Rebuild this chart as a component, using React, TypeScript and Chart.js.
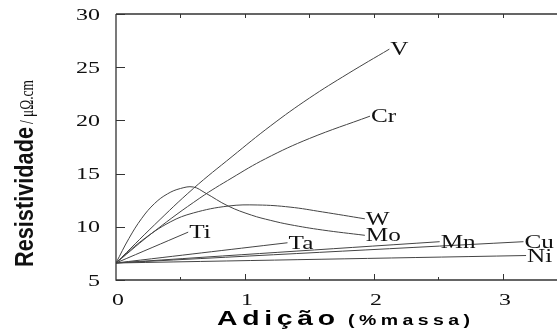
import { useEffect, useRef } from "react";
import { Chart, registerables } from "chart.js";
Chart.register(...registerables);

// ---- data ----
const seriesNames = ["V", "Cr", "W", "Mo", "Ti", "Ta", "Mn", "Cu", "Ni"];
const vX = [0, 0.3, 0.6, 0.9, 1.2, 1.5, 1.8, 2.12];
const vY = [6.6, 10.2, 13.6, 16.6, 19.5, 22.1, 24.4, 26.7];
const crX = [0, 0.3, 0.65, 0.9, 1.16, 1.5, 1.97];
const crY = [6.6, 9.6, 12.7, 14.6, 16.4, 18.3, 20.4];
const wX = [0, 0.2, 0.42, 0.6, 0.87, 1.1, 1.35, 1.6, 1.93];
const wY = [6.6, 8.7, 10.45, 11.3, 11.95, 12.05, 11.85, 11.4, 10.75];
const moX = [0, 0.1, 0.2, 0.3, 0.4, 0.5, 0.6, 0.69, 0.87, 1.05, 1.2, 1.35, 1.6, 1.93];
const moY = [6.6, 8.9, 10.8, 12.2, 13.1, 13.6, 13.74, 13.2, 11.95, 11.1, 10.6, 10.2, 9.7, 9.2];
const tiX = [0, 0.56];
const tiY = [6.6, 9.5];
const taX = [0, 1.33];
const taY = [6.6, 8.5];
const mnX = [0, 2.51];
const mnY = [6.6, 8.6];
const cuX = [0, 3.16];
const cuY = [6.6, 8.6];
const niX = [0, 3.18];
const niY = [6.6, 7.3];

const seriesX = [vX, crX, wX, moX, tiX, taX, mnX, cuX, niX];
const seriesY = [vY, crY, wY, moY, tiY, taY, mnY, cuY, niY];

const xTickLabels = [0, 1, 2, 3];
const xTickMarks = [0.5, 1, 1.5, 2, 2.5, 3];
const yTickLabels = [5, 10, 15, 20, 25, 30];

const yTitleMain = "Resistividade";
const yTitleUnit = "/ μΩ.cm";
const xTitleMain = "Adição";
const xTitleUnit = "(%massa)";

function stretchText(
  ctx: CanvasRenderingContext2D,
  text: string,
  x: number,
  y: number,
  sx: number,
  align: "left" | "right" | "center"
) {
  const w = ctx.measureText(text).width * sx;
  const x0 = align === "left" ? x : align === "right" ? x - w : x - w / 2;
  ctx.save();
  ctx.translate(x0, y);
  ctx.scale(sx, 1);
  ctx.textAlign = "left";
  ctx.fillText(text, 0, 0);
  ctx.restore();
}

function spacedText(
  ctx: CanvasRenderingContext2D,
  text: string,
  x0: number,
  x1: number,
  y: number,
  sx: number
) {
  const chars = Array.from(text);
  const widths = chars.map((c) => ctx.measureText(c).width * sx);
  const total = widths.reduce((a, b) => a + b, 0);
  const gap = chars.length > 1 ? (x1 - x0 - total) / (chars.length - 1) : 0;
  let x = x0;
  chars.forEach((c, i) => {
    ctx.save();
    ctx.translate(x, y);
    ctx.scale(sx, 1);
    ctx.textAlign = "left";
    ctx.fillText(c, 0, 0);
    ctx.restore();
    x += widths[i] + gap;
  });
}

const decorPlugin = {
  id: "decor",
  afterDatasetsDraw(chart: any) {
    const ctx: CanvasRenderingContext2D = chart.ctx;
    const { left, right, top, bottom } = chart.chartArea;
    const xs = chart.scales.x;
    const ys = chart.scales.y;
    ctx.save();
    // axes frame
    ctx.strokeStyle = "#333";
    ctx.lineWidth = 1.3;
    ctx.beginPath();
    ctx.moveTo(left, top);
    ctx.lineTo(right, top);
    ctx.moveTo(left, top);
    ctx.lineTo(left, bottom);
    ctx.lineTo(right, bottom);
    ctx.stroke();
    // y ticks (inward)
    ctx.lineWidth = 1;
    ctx.beginPath();
    yTickLabels.forEach((v) => {
      const y = Math.round(ys.getPixelForValue(v)) + 0.5;
      ctx.moveTo(left, y);
      ctx.lineTo(left + 9, y);
    });
    // x ticks bottom and top (inward)
    xTickMarks.forEach((v) => {
      const x = Math.round(xs.getPixelForValue(v)) + 0.5;
      const major = Math.abs(v - Math.round(v)) < 1e-6;
      ctx.moveTo(x, bottom);
      ctx.lineTo(x, bottom - (major ? 6 : 3));
      ctx.moveTo(x, top);
      ctx.lineTo(x, top + 4);
    });
    ctx.stroke();

    ctx.fillStyle = "#111";
    ctx.textBaseline = "alphabetic";
    // y tick labels
    ctx.font = '16px "Liberation Serif"';
    yTickLabels.forEach((v) => {
      const y = ys.getPixelForValue(v);
      stretchText(ctx, String(v), 100, y + 5.5, 1.5, "right");
    });
    // x tick labels
    ctx.font = '17px "Liberation Serif"';
    xTickLabels.forEach((v) => {
      const x = xs.getPixelForValue(v);
      stretchText(ctx, String(v), x + 2, 305, 1.4, "center");
    });

    // series labels at end points
    ctx.font = '18px "Liberation Serif"';
    chart.data.datasets.forEach((ds: any, i: number) => {
      const meta = chart.getDatasetMeta(i);
      const pt = meta.data[meta.data.length - 1];
      stretchText(ctx, ds.label, pt.x + 1, pt.y + 6, 1.4, "left");
    });

    // y title (rotated)
    ctx.save();
    ctx.translate(33, 267);
    ctx.rotate(-Math.PI / 2);
    ctx.font = 'bold 20px "Liberation Sans"';
    const wMain = ctx.measureText(yTitleMain).width;
    ctx.scale(140 / wMain, 1.33);
    ctx.textAlign = "left";
    ctx.fillText(yTitleMain, 0, 0);
    ctx.restore();
    ctx.save();
    ctx.translate(33, 124);
    ctx.rotate(-Math.PI / 2);
    ctx.font = '14px "Liberation Serif"';
    const wUnit = ctx.measureText(yTitleUnit).width;
    ctx.scale(44 / wUnit, 1.4);
    ctx.textAlign = "left";
    ctx.fillText(yTitleUnit, 0, 0);
    ctx.restore();

    // x title
    ctx.fillStyle = "#000";
    ctx.font = 'bold 21px "Liberation Sans"';
    spacedText(ctx, xTitleMain, 217, 335, 325, 1.35);
    ctx.font = 'bold 15px "Liberation Sans"';
    spacedText(ctx, xTitleUnit, 348, 470, 325, 1.3);
    ctx.restore();
  },
};

export default function App() {
  const ref = useRef<HTMLCanvasElement | null>(null);
  useEffect(() => {
    if (!ref.current) return;
    const datasets = seriesNames.map((name, i) => ({
      label: name,
      data: seriesX[i].map((x, j) => ({ x, y: seriesY[i][j] })),
      borderColor: "#444",
      borderWidth: 1,
      pointRadius: 0,
      fill: false,
      tension: 0.4,
    }));
    const chart = new Chart(ref.current, {
      type: "line",
      data: { datasets },
      options: {
        animation: false,
        responsive: false,
        devicePixelRatio: 1,
        layout: { padding: { top: 14, right: 0, left: 0, bottom: 0 } },
        plugins: { legend: { display: false }, tooltip: { enabled: false } },
        scales: {
          x: {
            type: "linear",
            min: 0,
            max: 3.42,
            grid: { display: false },
            border: { display: false },
            ticks: { display: false, stepSize: 0.5 },
            afterFit: (s: any) => {
              s.height = 52;
            },
          },
          y: {
            type: "linear",
            min: 5,
            max: 30,
            grid: { display: false },
            border: { display: false },
            ticks: { display: false, stepSize: 5 },
            afterFit: (s: any) => {
              s.width = 116;
            },
          },
        },
      },
      plugins: [decorPlugin],
    });
    return () => chart.destroy();
  }, []);
  return (
    <div
      style={{
        position: "absolute",
        left: 0,
        top: 0,
        width: 557,
        height: 332,
        background: "#fff",
      }}
    >
      <canvas ref={ref} width={557} height={332} style={{ width: 557, height: 332 }} />
    </div>
  );
}
